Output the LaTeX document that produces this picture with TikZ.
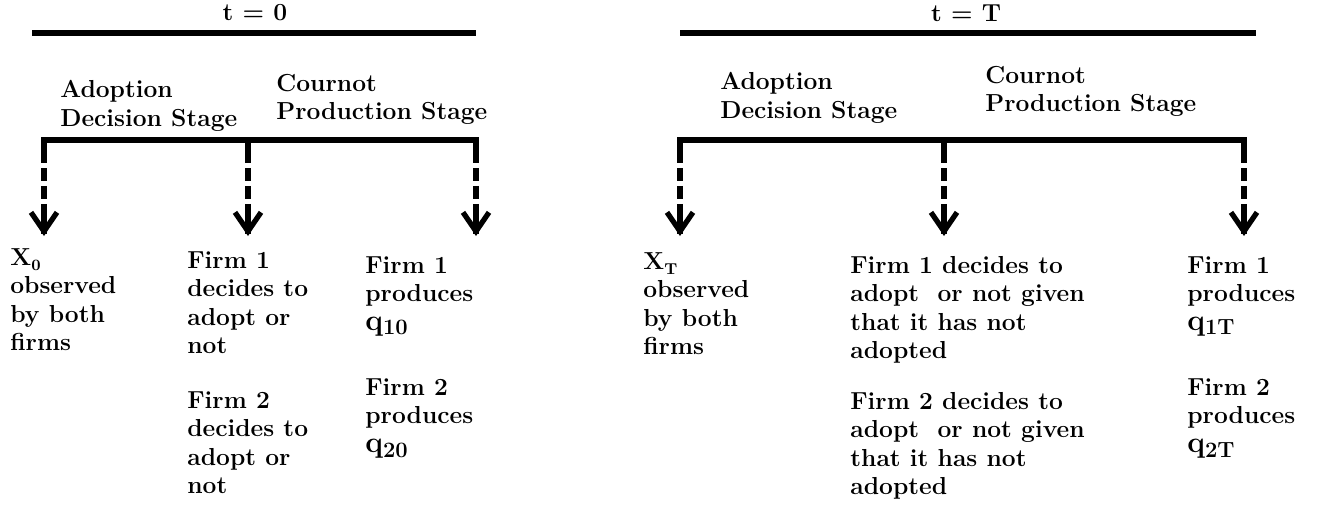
\RequirePackage{fix-cm}
\documentclass[tikz,border=0pt]{standalone}
\usepackage{fontspec}
\usetikzlibrary{arrows.meta}
\usetikzlibrary{positioning}
\newcommand*{\lowsub}[2][9]{\raisebox{-0.45ex}{\fontsize{#1}{#1}\selectfont #2}}
\newcommand*{\qty}[1]{{\fontsize{17}{17}\selectfont q}\lowsub[12.5]{#1}}

\begin{document}
\begin{tikzpicture}[x=0.02cm, y=-0.02cm,
    txt/.style = {font=\fontsize{14}{16.2}\selectfont\bfseries, align=left,
                  inner sep=0pt, anchor=north west},
    heading/.style = {font=\fontsize{14}{16.2}\selectfont\bfseries, inner sep=0pt},
    timeline/.style = {line width=3.3pt},
    stageline/.style = {line width=3pt},
    dropline/.style = {line width=3pt, dash pattern=on 0.26cm off 0.1cm},
    drophead/.style = {line width=3pt, -{Straight Barb[length=0.38cm,width=0.52cm]}}]
    \useasboundingbox (0,0) rectangle (1320,508);

    % ---------- t = 0 ----------
    \node[heading] (head0) at (255,13) {t = 0};
    \coordinate (tl0a) at (32,33);
    \coordinate (tl0b) at (476,33);
    \draw[timeline] (tl0a) -- (tl0b);
    \node[txt] (adopt0) at (60,80) {Adoption\\Decision Stage};
    \node[txt] (cour0) at (276,74) {Cournot\\Production Stage};
    \coordinate (br0a) at (44,140);
    \coordinate (br0b) at (248,140);
    \coordinate (br0c) at (476,140);
    \draw[stageline] ([yshift=-0.2cm]br0a) -- (br0a) -- (br0c) -- ([yshift=-0.2cm]br0c);
    \draw[stageline] (br0b) -- ([yshift=-0.2cm]br0b);
    \coordinate (tip0a) at (44,236);
    \coordinate (tip0b) at (248,236);
    \coordinate (tip0c) at (476,236);
    \foreach \c in {a,b,c}{
        \draw[dropline] ([yshift=-0.2cm]br0\c) -- ([yshift=0.05cm]tip0\c);
        \draw[drophead] ([yshift=0.4cm]tip0\c) -- (tip0\c);
    }
    \node[txt] (obs0) at (10,248) {X\lowsub{0}\\observed\\by both\\firms};
    \node[txt] (dec1z) at (187,251) {Firm 1\\decides to\\adopt or\\not};
    \node[txt, below=0.74cm of dec1z.south west, anchor=north west] (dec2z) {Firm 2\\decides to\\adopt or\\not};
    \node[txt] (prod1z) at (365,256) {Firm 1\\produces\\\qty{10}};
    \node[txt, below=0.84cm of prod1z.south west, anchor=north west] (prod2z) {Firm 2\\produces\\\qty{20}};

    % ---------- t = T ----------
    \node[heading] (headT) at (966,13) {t = T};
    \coordinate (tlTa) at (680,33);
    \coordinate (tlTb) at (1256,33);
    \draw[timeline] (tlTa) -- (tlTb);
    \node[txt] (adoptT) at (720,72) {Adoption\\Decision Stage};
    \node[txt] (courT) at (985,66) {Cournot\\Production Stage};
    \coordinate (brTa) at (680,140);
    \coordinate (brTb) at (944,140);
    \coordinate (brTc) at (1244,140);
    \draw[stageline] ([yshift=-0.2cm]brTa) -- (brTa) -- (brTc) -- ([yshift=-0.2cm]brTc);
    \draw[stageline] (brTb) -- ([yshift=-0.2cm]brTb);
    \coordinate (tipTa) at (680,236);
    \coordinate (tipTb) at (944,236);
    \coordinate (tipTc) at (1244,236);
    \foreach \c in {a,b,c}{
        \draw[dropline] ([yshift=-0.2cm]brT\c) -- ([yshift=0.05cm]tipT\c);
        \draw[drophead] ([yshift=0.4cm]tipT\c) -- (tipT\c);
    }
    \node[txt] (obsT) at (643,252) {X\lowsub{T}\\observed\\by both\\firms};
    \node[txt] (dec1T) at (850,256) {Firm 1 decides to\\adopt~ or not given\\that it has not\\adopted};
    \node[txt, below=0.56cm of dec1T.south west, anchor=north west] (dec2T) {Firm 2 decides to\\adopt~ or not given\\that it has not\\adopted};
    \node[txt] (prod1T) at (1187,256) {Firm 1\\produces\\\qty{1T}};
    \node[txt, below=0.84cm of prod1T.south west, anchor=north west] (prod2T) {Firm 2\\produces\\\qty{2T}};
\end{tikzpicture}
\end{document}
